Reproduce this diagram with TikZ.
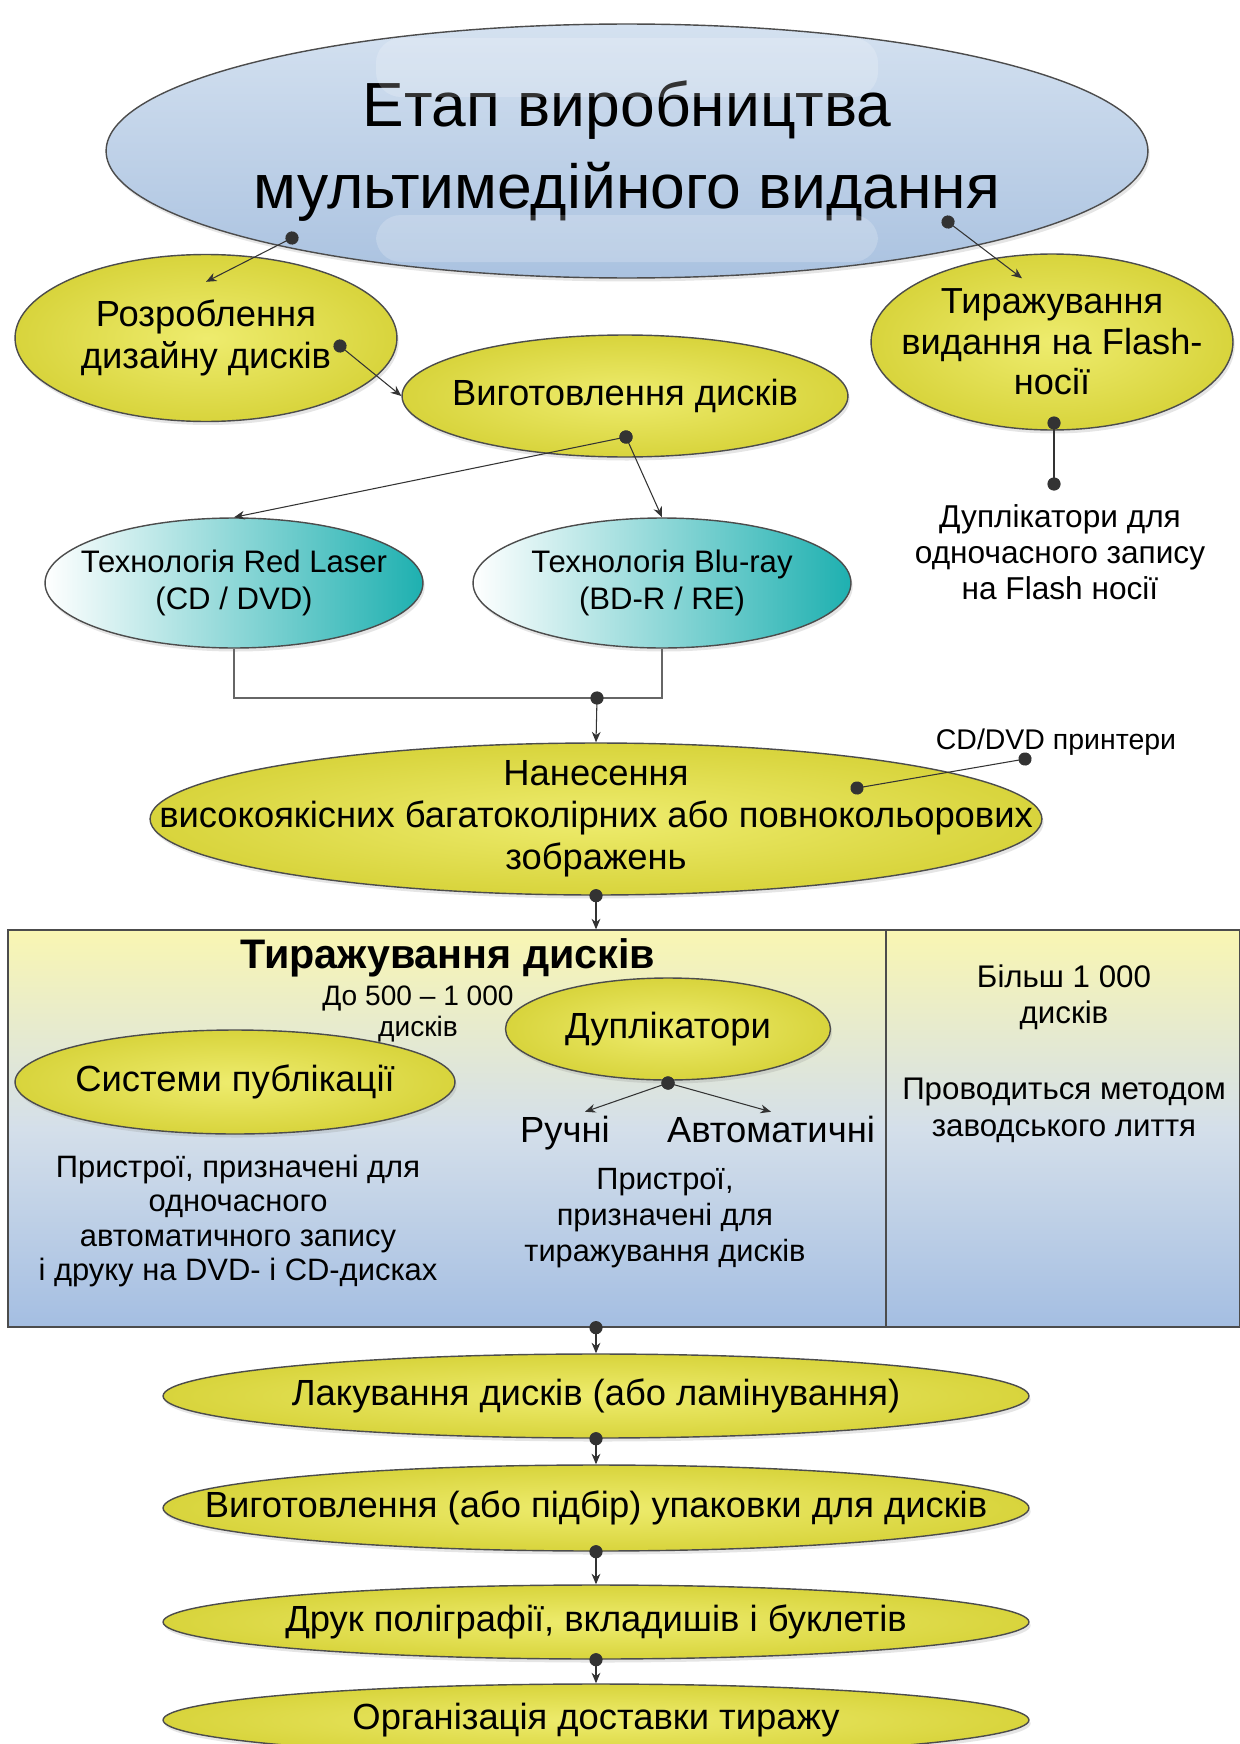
\documentclass[tikz,border=0pt]{standalone}
\usepackage{fontspec}
\setmainfont{Liberation Sans}
\usetikzlibrary{shapes.geometric,arrows.meta,shadows}
\definecolor{yelin}{RGB}{238,236,110}
\definecolor{yelout}{RGB}{216,212,60}
\definecolor{bluetop}{RGB}{212,225,240}
\definecolor{bluebot}{RGB}{170,194,224}
\definecolor{tealc}{RGB}{30,176,176}
\definecolor{boxtop}{RGB}{249,246,178}
\definecolor{boxmid}{RGB}{212,223,234}
\definecolor{boxbot}{RGB}{164,190,226}
\begin{document}
\begin{tikzpicture}[x=0.02cm,y=-0.02cm,
  ell/.style={ellipse,draw=black!70,line width=0.8pt,inner sep=0pt,
    drop shadow={opacity=0.2,shadow xshift=1pt,shadow yshift=-2pt}},
  yell/.style={ell,inner color=yelin,outer color=yelout},
  tealell/.style={ell,left color=white,middle color=tealc,right color=tealc},
  txt/.style={align=center,inner sep=2pt,font=\fontsize{20.7}{24}\selectfont},
  conn/.style={{Circle[length=7.5pt]}-{Stealth[length=6pt,width=5pt]},line width=0.6pt,black!80,shorten <=-3.75pt},
  dotline/.style={{Circle[length=7.5pt]}-{Circle[length=7.5pt]},line width=0.6pt,black!80,shorten <=-3.75pt,shorten >=-3.75pt}]
\useasboundingbox (0,0) rectangle (1240,1744);
\clip (0,0) rectangle (1240,1744);
\fill[white] (0,0) rectangle (1240,1744);

% Title
\node[ell,top color=bluetop,bottom color=bluebot,minimum width=20.84cm,minimum height=5.08cm,
  label={[align=center,font=\fontsize{35.5}{46.5}\selectfont]center:Етап виробництва\\мультимедійного видання}] (main) at (627,151) {};
\begin{scope}
\clip (627,151) ellipse (10.42cm and 2.54cm);
\fill[white,opacity=0.2,rounded corners=0.5cm] (376,38) rectangle (878,97);
\fill[white,opacity=0.2,rounded corners=0.5cm] (376,215) rectangle (878,262);
\end{scope}

% First level
\node[yell,minimum width=7.64cm,minimum height=3.34cm,label={[txt]center:Розроблення\\дизайну дисків}] (razr) at (206,338) {};
\node[yell,minimum width=8.92cm,minimum height=2.44cm,label={[txt]center:Виготовлення дисків}] (vyg) at (625,396) {};
\node[yell,minimum width=7.24cm,minimum height=3.52cm,
  label={[align=center,font=\fontsize{20.6}{23}\selectfont]center:Тиражування\\видання на Flash-\\носії}] (tir) at (1052,342) {};
\node[align=center,font=\fontsize{18}{20.4}\selectfont] (flashdup) at (1060,552) {Дуплікатори для\\одночасного запису\\на Flash носії};

% Technologies
\node[tealell,minimum width=7.56cm,minimum height=2.6cm,
  label={[align=center,font=\fontsize{17.7}{21}\selectfont]center:Технологія Red Laser\\(CD / DVD)}] (red) at (234,583) {};
\node[tealell,minimum width=7.56cm,minimum height=2.6cm,
  label={[align=center,font=\fontsize{17.7}{21}\selectfont]center:Технологія Blu-ray\\(BD-R / RE)}] (blu) at (662,583) {};

% Printing
\node[yell,minimum width=17.84cm,minimum height=3.04cm,
  label={[txt]center:Нанесення\\високоякісних багатоколірних або повнокольорових\\зображень}] (nanes) at (596,819) {};
\node[inner sep=1pt,font=\fontsize{16.2}{19}\selectfont] (cdprint) at (1056,742) {CD/DVD принтери};

% Duplication box
\node[draw=black!70,line width=0.8pt,top color=boxtop,bottom color=boxbot,middle color=boxmid,
  minimum width=17.56cm,minimum height=7.94cm,inner sep=0pt] (boxL) at (447,1128.5) {};
\node[draw=black!70,line width=0.8pt,top color=boxtop,bottom color=boxbot,middle color=boxmid,
  minimum width=7.08cm,minimum height=7.94cm,inner sep=0pt] (boxR) at (1063,1128.5) {};
\node[yell,minimum width=8.8cm,minimum height=2.08cm,label={[txt]center:Системи публікації}] (sys) at (235,1082) {};
\node[yell,minimum width=6.5cm,minimum height=2.04cm,label={[txt]center:Дуплікатори}] (dupl) at (668,1029) {};
\node[inner sep=1pt,font=\bfseries\fontsize{23.5}{27}\selectfont] (boxtitle) at (448,958) {Тиражування дисків};
\node[align=center,inner sep=1pt,font=\fontsize{16}{18}\selectfont] (upto) at (418,1014) {До 500 – 1 000\\дисків};
\node[txt,anchor=base] (manual) at (565,1142) {Ручні};
\node[txt,anchor=base] (auto) at (771,1142) {Автоматичні};
\node[align=center,font=\fontsize{17.6}{19.5}\selectfont] (sysdesc) at (238,1221) {Пристрої, призначені для\\одночасного\\автоматичного запису\\і друку на DVD- і CD-дисках};
\node[align=center,font=\fontsize{17.5}{20.4}\selectfont] (dupdesc) at (665,1218) {Пристрої,\\призначені для\\тиражування дисків};
\node[align=center,font=\fontsize{17.8}{20.5}\selectfont] (more) at (1064,997) {Більш 1 000\\дисків};
\node[align=center,font=\fontsize{17.8}{21}\selectfont] (method) at (1064,1110) {Проводиться методом\\заводського лиття};

% Final steps
\node[yell,minimum width=17.32cm,minimum height=1.68cm,label={[txt]center:Лакування дисків (або ламінування)}] (lak) at (596,1396) {};
\node[yell,minimum width=17.32cm,minimum height=1.72cm,label={[txt]center:Виготовлення (або підбір) упаковки для дисків}] (vyp) at (596,1508) {};
\node[yell,minimum width=17.32cm,minimum height=1.48cm,label={[txt]center:Друк поліграфії, вкладишів і буклетів}] (druk) at (596,1622) {};
\node[yell,minimum width=17.32cm,minimum height=1.44cm,label={[txt]center:Організація доставки тиражу}] (org) at (596,1720) {};

% Connector points
\coordinate (mainL) at (292,238);
\coordinate (mainR) at (948,222);
\coordinate (razrdot) at (340,346);
\coordinate (vygdot) at (626,437);
\coordinate (tirdot) at (1054,423);
\coordinate (flashdot) at (1054,484);
\coordinate (join) at (597,698);
\coordinate (nanesdot) at (857,788);
\coordinate (cddot) at (1025,759);
\coordinate (dupldot) at (668,1083);

% Connectors
\draw[conn] (mainL) -- ([yshift=-0.56cm]razr.north);
\draw[conn] (mainR) -- ([xshift=-0.6cm,yshift=-0.5cm]tir.north);
\draw[conn] (razrdot) -- (vyg.west);
\draw[conn] (vygdot) -- (red.north);
\draw[conn] (vygdot) -- (blu.north);
\draw[dotline] (tirdot) -- (flashdot);
\draw[line width=0.6pt,black!60] (red.south) |- (join) -| (blu.south);
\draw[conn] (join) -- (nanes.north);
\draw[dotline] (nanesdot) -- (cddot);
\draw[conn] (nanes.south) -- (nanes.south |- boxL.north);
\draw[conn] (dupldot) -- ([xshift=0.4cm]manual.north);
\draw[conn] (dupldot) -- (auto.north);
\draw[conn] (lak.north |- boxL.south) -- (lak.north);
\draw[conn] (lak.south) -- (vyp.north);
\draw[conn] (vyp.south) -- (druk.north);
\draw[conn] (druk.south) -- (org.north);
\end{tikzpicture}
\end{document}
